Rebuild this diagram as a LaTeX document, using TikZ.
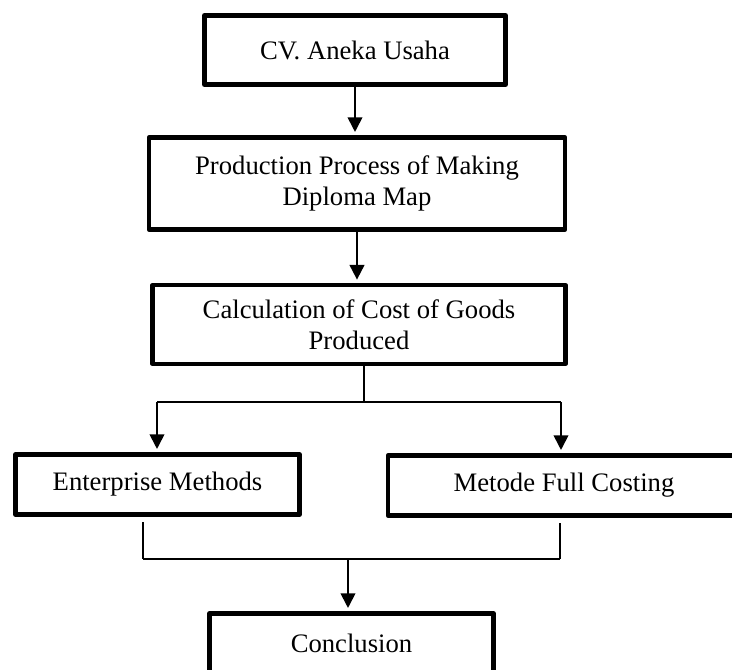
\documentclass[tikz,border=0pt]{standalone}
\usepackage{fontspec}
\setmainfont{Liberation Serif}
\usetikzlibrary{arrows.meta}
\begin{document}
\begin{tikzpicture}[x=0.75pt,y=-0.75pt,
  box/.style={draw=black, line width=3.3pt, line join=round, rectangle, align=center,
    inner sep=0pt, font=\fontsize{20}{23}\selectfont},
  arr/.style={line width=1.4pt, -{Triangle[width=11pt,length=11pt]}, shorten >=2.5pt},
  link/.style={line width=1pt}]
\useasboundingbox (0,0) rectangle (732,670);
\clip (0,0) rectangle (732,670);
\node[box, minimum width=226pt, minimum height=52pt] (B1) at (355,50) {CV. Aneka Usaha};
\node[box, minimum width=312pt, minimum height=69pt] (B2) at (357,183.5) {Production Process of Making\\Diploma Map};
\node[box, minimum width=310pt, minimum height=59pt] (B3) at (359,324.5) {Calculation of Cost of Goods\\Produced};
\node[box, minimum width=213pt, minimum height=45pt] (B4) at (157.5,484.5) {Enterprise Methods};
\node[box, minimum width=264pt, minimum height=45pt] (B5) at (564,485.5) {Metode Full Costing};
\node[box, minimum width=213pt, minimum height=45pt] (C) at (351.5,643.5) {Conclusion};
\draw[arr] (B1.south) -- (B1.south |- B2.north);
\draw[arr] (B2.south) -- (B2.south |- B3.north);
\coordinate (j1) at (364,402);
\coordinate (jl) at (157,402);
\coordinate (jr) at (561,402);
\draw[link] (j1 |- B3.south) -- (j1);
\draw[link] (jl) -- (jr);
\draw[arr] (jl) -- (jl |- B4.north);
\draw[arr] (jr) -- (jr |- B5.north);
\coordinate (kl) at (143,559);
\coordinate (kr) at (560,559);
\coordinate (km) at (348,559);
\draw[link, shorten <=4pt] (kl |- B4.south) -- (kl);
\draw[link, shorten <=4pt] (kr |- B5.south) -- (kr);
\draw[link] (kl) -- (kr);
\draw[arr] (km) -- (km |- C.north);
\end{tikzpicture}
\end{document}
